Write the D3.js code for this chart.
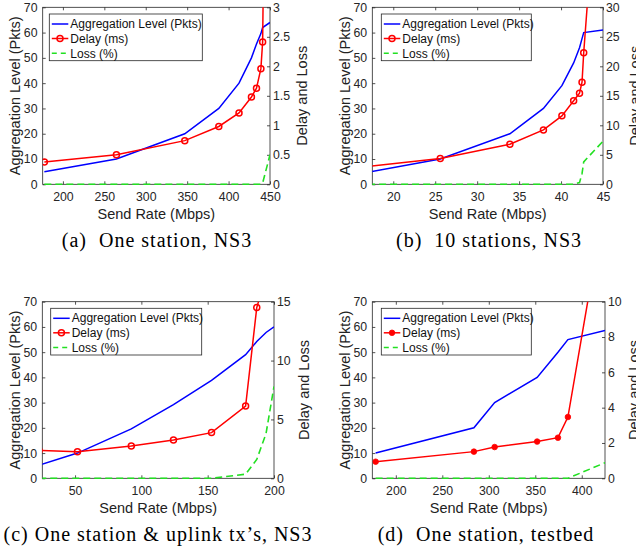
<!DOCTYPE html>
<html>
<head>
<meta charset="utf-8">
<script src="https://cdn.jsdelivr.net/npm/d3@7"></script>
<style>
  body { margin: 0; background: #fff; }
  svg { display: block; }
</style>
</head>
<body>
<div id="chart"></div>
<script>
// (a) One station, NS3
const rateA  = [177.6, 264.6, 347.1, 388.2, 412.6, 427.6, 433.7, 439.0, 441.1, 450];
const aggA   = [5, 10, 20, 30, 40, 50, 55.5, 59.6, 62, 64];
const delayA = [0.38, 0.50, 0.74, 0.98, 1.21, 1.48, 1.63, 1.96, 2.41, 13];
const lossA  = [0, 0, 0, 0, 0, 0, 0, 0, 0.02, 0.5];

// (b) 10 stations, NS3
const rateB  = [17.0, 25.6, 33.9, 37.9, 40.1, 41.5, 42.2, 42.5, 42.7, 45];
const aggB   = [4.8, 10, 20, 30, 39, 48, 54, 57.6, 60, 61];
const delayB = [3.05, 4.36, 6.79, 9.22, 11.6, 14.15, 15.45, 17.3, 22.3, 66];
const lossB  = [0, 0, 0, 0, 0, 0, 0.3, 1.8, 3.8, 7.3];

// (c) One station & uplink tx's, NS3
const rateC  = [23, 51.8, 92.4, 124.2, 152.9, 178.6, 187, 194, 200];
const aggC   = [5.2, 10, 19.6, 29.2, 38.8, 49, 54.2, 57.8, 60];
const delayC = [2.36, 2.26, 2.75, 3.25, 3.88, 6.14, 14.5, 17.2, 25];
const lossC  = [0, 0, 0, 0, 0, 0.35, 1.6, 3.8, 7.8];

// (d) One station, testbed
const rateD  = [178.3, 284, 306.3, 352, 374.4, 385.1, 425];
const aggD   = [10, 20, 30, 40, 50, 55, 58.6];
const delayD = [0.94, 1.51, 1.77, 2.08, 2.3, 3.47, 15.7];
const lossD  = [0, 0, 0, 0, 0, 0, 0.88];

// tick labels
const leftTicks = [0, 10, 20, 30, 40, 50, 60, 70];
const xTicksA = [200, 250, 300, 350, 400, 450];
const xTicksB = [20, 25, 30, 35, 40, 45];
const xTicksC = [50, 100, 150, 200];
const xTicksD = [200, 250, 300, 350, 400];
const rTicksA = [0, 0.5, 1, 1.5, 2, 2.5, 3];
const rTicksB = [0, 5, 10, 15, 20, 25, 30];
const rTicksC = [0, 5, 10, 15];
const rTicksD = [0, 2, 4, 6, 8, 10];

const legendLabels = ['Aggregation Level (Pkts)', 'Delay (ms)', 'Loss (%)'];

const sans = "'Liberation Sans', Arial, Helvetica, sans-serif";
const serif = "'Liberation Serif', 'Times New Roman', serif";
const axisColor = '#262626';
const blue = '#0000ff', red = '#ff0000', green = '#22e022';

const panels = [
  { id: 'a', rate: rateA, agg: aggA, delay: delayA, loss: lossA,
    xDomain: [175.6, 450], rMax: 3, xTicks: xTicksA, rTicks: rTicksA,
    box: { l: 42.7, r: 270, t: 7.3, b: 184.3 }, legend: { x: 49.3, y: 14, w: 153 },
    caption: '(a)\u00a0\u00a0One station, NS3', capX: 157, rLab: 37, filled: false },
  { id: 'b', rate: rateB, agg: aggB, delay: delayB, loss: lossB,
    xDomain: [17.5, 45], rMax: 30, xTicks: xTicksB, rTicks: rTicksB,
    box: { l: 372.3, r: 603, t: 7.3, b: 184.3 }, legend: { x: 381.3, y: 14, w: 150 },
    caption: '(b)\u00a0\u00a010 stations, NS3', capX: 489, rLab: 37, filled: false },
  { id: 'c', rate: rateC, agg: aggC, delay: delayC, loss: lossC,
    xDomain: [25.3, 200], rMax: 15, xTicks: xTicksC, rTicks: rTicksC,
    box: { l: 42.3, r: 274, t: 301.7, b: 478.3 }, legend: { x: 50.7, y: 308.3, w: 151 },
    caption: '(c) One station & uplink tx\u2019s, NS3', capX: 158, rLab: 34.7, filled: false },
  { id: 'd', rate: rateD, agg: aggD, delay: delayD, loss: lossD,
    xDomain: [174.7, 425], rMax: 10, xTicks: xTicksD, rTicks: rTicksD,
    box: { l: 372.3, r: 605, t: 301.7, b: 478.3 }, legend: { x: 381.3, y: 308.3, w: 150 },
    caption: '(d)\u00a0\u00a0One station, testbed', capX: 486, rLab: 33.5, filled: true }
];

const svg = d3.select('#chart')
  .append('svg')
  .attr('width', 636)
  .attr('height', 556);

const styleAxis = sel => {
  sel.select('.domain').remove();
  sel.selectAll('line').attr('stroke', axisColor).attr('stroke-width', 0.8);
  sel.selectAll('text')
    .attr('font-family', sans)
    .attr('font-size', 12.3)
    .attr('fill', axisColor);
};

const markerR = p => p.filled ? 2.8 : 3.0;

const drawPanel = p => {
  const g = svg.append('g').attr('id', 'panel-' + p.id);
  const bx = p.box;

  const x = d3.scaleLinear().domain(p.xDomain).range([bx.l, bx.r]);
  const yL = d3.scaleLinear().domain([0, 70]).range([bx.b, bx.t]);
  const yR = d3.scaleLinear().domain([0, p.rMax]).range([bx.b, bx.t]);

  // frame
  g.append('rect')
    .attr('x', bx.l).attr('y', bx.t)
    .attr('width', bx.r - bx.l).attr('height', bx.b - bx.t)
    .attr('fill', 'none')
    .attr('stroke', axisColor)
    .attr('stroke-width', 0.8);

  g.append('g')
    .attr('transform', `translate(0,${bx.b})`)
    .call(d3.axisBottom(x).tickValues(p.xTicks).tickSize(-3).tickPadding(7.5).tickFormat(d3.format('~g')))
    .call(styleAxis);

  g.append('g')
    .attr('transform', `translate(0,${bx.t})`)
    .call(d3.axisTop(x).tickValues(p.xTicks).tickSize(-3).tickFormat(''))
    .call(styleAxis);

  g.append('g')
    .attr('transform', `translate(${bx.l},0)`)
    .call(d3.axisLeft(yL).tickValues(leftTicks).tickSize(-3).tickPadding(5.2).tickFormat(d3.format('~g')))
    .call(styleAxis);

  g.append('g')
    .attr('transform', `translate(${bx.r},0)`)
    .call(d3.axisRight(yR).tickValues(p.rTicks).tickSize(-3).tickPadding(3).tickFormat(d3.format('~g')))
    .call(styleAxis);

  // clip to plot area
  g.append('clipPath')
    .attr('id', 'clip-' + p.id)
    .append('rect')
    .attr('x', bx.l).attr('y', bx.t)
    .attr('width', bx.r - bx.l).attr('height', bx.b - bx.t + 1.2);

  const plot = g.append('g').attr('clip-path', `url(#clip-${p.id})`);

  const aggLine = d3.line().x((d, i) => x(p.rate[i])).y(d => yL(d));
  const rLine = d3.line().x((d, i) => x(p.rate[i])).y(d => yR(d));

  plot.append('path')
    .attr('d', aggLine(p.agg))
    .attr('fill', 'none')
    .attr('stroke', blue)
    .attr('stroke-width', 1.5);

  plot.append('path')
    .attr('d', rLine(p.delay))
    .attr('fill', 'none')
    .attr('stroke', red)
    .attr('stroke-width', 1.5);

  plot.selectAll('circle.delay')
    .data(p.delay)
    .enter()
    .append('circle')
    .attr('class', 'delay')
    .attr('cx', (d, i) => x(p.rate[i]))
    .attr('cy', d => yR(d))
    .attr('r', markerR(p))
    .attr('fill', p.filled ? red : 'none')
    .attr('stroke', red)
    .attr('stroke-width', p.filled ? 0.8 : 1.5);

  plot.append('path')
    .attr('d', rLine(p.loss))
    .attr('fill', 'none')
    .attr('stroke', green)
    .attr('stroke-width', 1.6)
    .attr('stroke-dasharray', '7,4');

  // legend
  const lg = g.append('g').attr('transform', `translate(${p.legend.x},${p.legend.y})`);
  lg.append('rect')
    .attr('width', p.legend.w)
    .attr('height', 46.7)
    .attr('fill', '#fff')
    .attr('stroke', axisColor)
    .attr('stroke-width', 0.8);

  const rowY = [10, 24.5, 39.3];
  const rowColor = [blue, red, green];
  legendLabels.forEach((lab, i) => {
    lg.append('line')
      .attr('x1', 2.5).attr('x2', 19)
      .attr('y1', rowY[i]).attr('y2', rowY[i])
      .attr('stroke', rowColor[i])
      .attr('stroke-width', 1.5)
      .attr('stroke-dasharray', i === 2 ? '5,4' : null);
    if (i === 1) {
      lg.append('circle')
        .attr('cx', 10.7).attr('cy', rowY[i])
        .attr('r', markerR(p))
        .attr('fill', p.filled ? red : 'none')
        .attr('stroke', red)
        .attr('stroke-width', p.filled ? 0.8 : 1.5);
    }
    lg.append('text')
      .attr('x', 21)
      .attr('y', rowY[i] + 4.2)
      .attr('font-family', sans)
      .attr('font-size', 12)
      .attr('fill', '#111')
      .text(lab);
  });

  // axis titles
  const midX = (bx.l + bx.r) / 2;
  const midY = (bx.t + bx.b) / 2;

  g.append('text')
    .attr('x', midX)
    .attr('y', bx.b + 35)
    .attr('text-anchor', 'middle')
    .attr('font-family', sans)
    .attr('font-size', 14.5)
    .attr('fill', '#222')
    .text('Send Rate (Mbps)');

  g.append('text')
    .attr('transform', `translate(${bx.l - 22.5},${midY}) rotate(-90)`)
    .attr('text-anchor', 'middle')
    .attr('font-family', sans)
    .attr('font-size', 14.5)
    .attr('fill', '#222')
    .text('Aggregation Level (Pkts)');

  g.append('text')
    .attr('transform', `translate(${bx.r + p.rLab},${midY}) rotate(-90)`)
    .attr('text-anchor', 'middle')
    .attr('font-family', sans)
    .attr('font-size', 14.5)
    .attr('fill', '#222')
    .text('Delay and Loss');

  // sub-caption
  g.append('text')
    .attr('x', p.capX)
    .attr('y', bx.b + 62.4)
    .attr('text-anchor', 'middle')
    .attr('font-family', serif)
    .attr('font-size', 20)
    .attr('letter-spacing', '1px')
    .attr('fill', '#000')
    .text(p.caption);
};

panels.forEach(drawPanel);
</script>
</body>
</html>
